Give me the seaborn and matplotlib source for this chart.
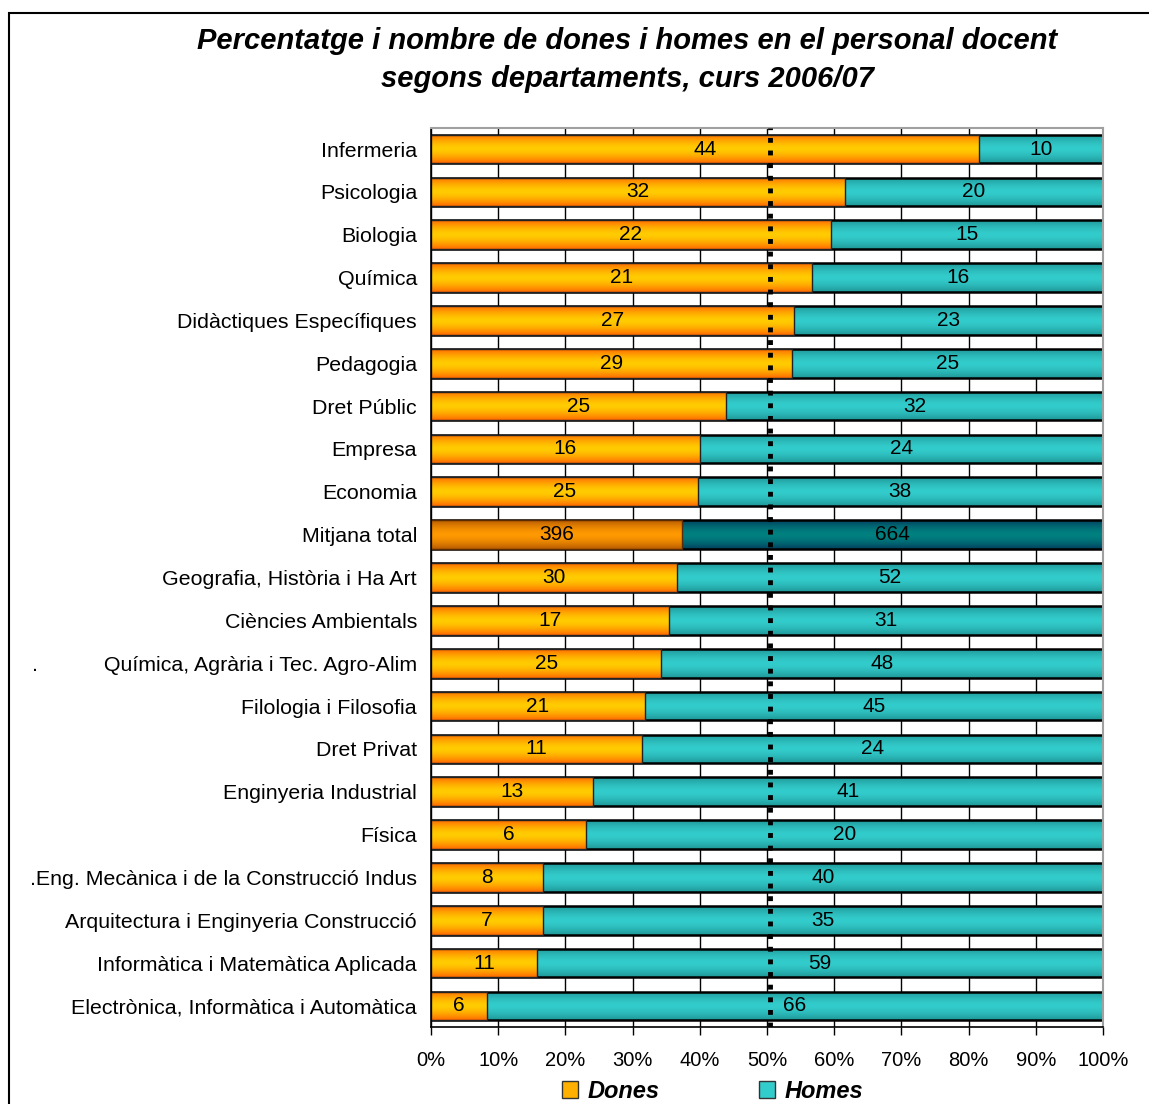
import numpy as np
import pandas as pd
import matplotlib
matplotlib.use("Agg")
import matplotlib.pyplot as plt
import seaborn as sns
from matplotlib.patches import Patch, Rectangle

categories = [
    "Infermeria", "Psicologia", "Biologia", "Química",
    "Didàctiques Específiques", "Pedagogia", "Dret Públic", "Empresa",
    "Economia", "Mitjana total", "Geografia, Història i Ha Art",
    "Ciències Ambientals", ".           Química, Agrària i Tec. Agro-Alim",
    "Filologia i Filosofia", "Dret Privat", "Enginyeria Industrial", "Física",
    ".Eng. Mecànica i de la Construcció Indus",
    "Arquitectura i Enginyeria Construcció",
    "Informàtica i Matemàtica Aplicada",
    "Electrònica, Informàtica i Automàtica",
]
dones = [44, 32, 22, 21, 27, 29, 25, 16, 25, 396, 30, 17, 25, 21, 11, 13, 6, 8, 7, 11, 6]
homes = [10, 20, 15, 16, 23, 25, 32, 24, 38, 664, 52, 31, 48, 45, 24, 41, 20, 40, 35, 59, 66]
xticks = [0, 10, 20, 30, 40, 50, 60, 70, 80, 90, 100]
ref_line = 50.4
highlight = "Mitjana total"
title = "Percentatge i nombre de dones i homes en el personal docent\nsegons departaments, curs 2006/07"

d = np.array(dones, float)
h = np.array(homes, float)
tot = d + h
df = pd.DataFrame({"cat": categories, "dones_pct": d / tot * 100, "total_pct": tot / tot * 100})

sns.set_style("white")
plt.rcParams["font.family"] = ["Liberation Sans", "DejaVu Sans"]
plt.rcParams["text.color"] = "black"
plt.rcParams["xtick.color"] = "black"
plt.rcParams["ytick.color"] = "black"
plt.rcParams["axes.labelcolor"] = "black"

fig = plt.figure(figsize=(11.49, 11.04), dpi=100)
ax = fig.add_axes([431 / 1149, 1 - 1027.4 / 1104, (1103 - 431) / 1149, (1027.4 - 127.6) / 1104])

bw = 0.67
sns.barplot(data=df, x="total_pct", y="cat", orient="h", color="#33CCCC", width=bw, ax=ax)
n = len(categories)
sns.barplot(data=df, x="dones_pct", y="cat", orient="h", color="#FFCC00", width=bw, ax=ax)

patches = ax.patches
teal_p = patches[:n]
or_p = patches[n:2 * n]

def grad(edge, center):
    e = np.array(matplotlib.colors.to_rgb(edge))
    c = np.array(matplotlib.colors.to_rgb(center))
    t = np.linspace(-1, 1, 64)
    w = np.clip(np.abs(t) ** 1.6, 0, 1)[:, None]
    return (c * (1 - w) + e * w)[:, None, :]

g_teal = grad("#1E9696", "#33CCCC")
g_or = grad("#FF6A00", "#FFCC00")
g_teal_m = grad("#00405E", "#008080")
g_or_m = grad("#B85C00", "#FF9900")

for i, (pt, po) in enumerate(zip(teal_p, or_p)):
    hi = categories[i] == highlight
    for p, g, z, ec, lw in [(pt, g_teal_m if hi else g_teal, 1, "black", 1.8),
                            (po, g_or_m if hi else g_or, 2, "#222222" if not hi else "#5a2a00", 1.0)]:
        x0, y0 = p.get_x(), p.get_y()
        wdt, hgt = p.get_width(), p.get_height()
        im = ax.imshow(g, extent=(x0, x0 + wdt, y0 + hgt, y0), aspect="auto",
                       zorder=z, interpolation="bilinear")
        im.set_clip_path(p)
        p.set_facecolor("none")
        p.set_edgecolor(ec)
        p.set_linewidth(lw)
        p.set_zorder(z + 0.5)

for i in range(n):
    dp = df["dones_pct"].iloc[i]
    ax.text(dp / 2, i, f"{dones[i]}", ha="center", va="center", fontsize=15, zorder=6, color="black")
    ax.text(dp + (100 - dp) / 2, i, f"{homes[i]}", ha="center", va="center", fontsize=15, zorder=6, color="black")

ax.axvline(ref_line, color="black", lw=3.5, ls=(0, (1, 1.6)), zorder=5)

ax.set_xlim(0, 100)
ax.set_ylim(n - 0.5, -0.5)
ax.set_xticks(xticks)
ax.set_xticklabels([f"{v}%" for v in xticks], fontsize=14.5)
ax.set_xlabel("")
ax.set_ylabel("")
ax.xaxis.grid(True, color="black", lw=1)
ax.set_axisbelow(True)
for gl in ax.get_xgridlines():
    gl.set_zorder(0)
ax.set_yticks(range(n))
ax.set_yticklabels(categories, fontsize=15.4)
ax.set_yticks(np.arange(-0.5, n, 1), minor=True)
ax.tick_params(axis="y", which="major", length=0, pad=10)
ax.tick_params(axis="y", which="minor", length=6, width=1, color="black", direction="out")
ax.tick_params(axis="x", which="major", length=6, width=1, color="black", direction="out", pad=11)
ax.tick_params(left=True, bottom=True)
for s in ["left", "bottom"]:
    ax.spines[s].set_color("black")
    ax.spines[s].set_linewidth(1.2)
for s in ["top", "right"]:
    ax.spines[s].set_color("#a0a0a0")
    ax.spines[s].set_linewidth(1.5)

fig.text(0.546, 1 - 60 / 1104, title, ha="center", va="center", fontsize=21,
         fontweight="bold", fontstyle="italic", linespacing=1.45, color="black")

handles = [Patch(facecolor="#FFB000", edgecolor="#333333", label="Dones"),
           Patch(facecolor="#33CCCC", edgecolor="#333333", label="Homes")]
leg = fig.legend(handles=handles, loc="center", bbox_to_anchor=(0.620, 1 - 1091 / 1104), ncol=2,
                 frameon=False, prop={"weight": "bold", "style": "italic", "size": 17},
                 handlelength=0.7, handleheight=0.7, handletextpad=0.4, columnspacing=4.2,
                 borderpad=0.1)

fig.patches.append(Rectangle((9 / 1149, -0.1), 1.2, 1 - 13 / 1104 + 0.1, transform=fig.transFigure,
                             fill=False, edgecolor="black", lw=1.5, zorder=0))

fig.savefig("out.png", dpi=100)
